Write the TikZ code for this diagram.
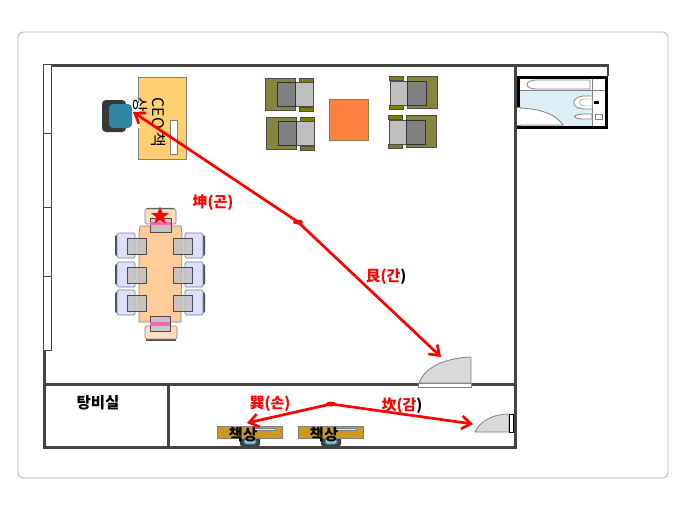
\documentclass[tikz,border=0pt]{standalone}
\usepackage{fontspec}
\usepackage{xcolor}
\setmainfont{Noto Sans CJK KR}
\usetikzlibrary{arrows.meta,shapes.geometric}

\definecolor{wallgray}{HTML}{444444}
\definecolor{olive}{HTML}{85853F}
\definecolor{armolive}{HTML}{808000}
\definecolor{deskgold}{HTML}{CC9A1A}
\definecolor{ceogold}{HTML}{FFCF70}
\definecolor{chairteal}{HTML}{2E86A0}
\definecolor{tableorange}{HTML}{FF7F3F}
\definecolor{tablepeach}{HTML}{FFCC99}
\definecolor{bathblue}{HTML}{DDEEF6}

\tikzset{
  wall/.style={draw=wallgray, line width=3pt},
  thinwall/.style={draw=wallgray, line width=1pt, fill=white},
  door/.style={draw=gray, line width=0.8pt, fill=black!15},
  route/.style={draw=red, line width=2.7pt},
  compass/.style={text=red, font=\fontsize{15}{15}\selectfont\bfseries},
  roomlabel/.style={text=black, font=\fontsize{15.5}{16}\selectfont\bfseries},
  desklabel/.style={text=black, font=\fontsize{15.5}{16}\selectfont\bfseries},
  seat/.style={draw=black!70, fill=black!24, fill opacity=0.85, line width=0.7pt},
  lavender/.style={draw=gray, fill=blue!13, rounded corners=1.5pt, line width=0.7pt},
  peach/.style={draw=gray, fill=orange!25, rounded corners=1.5pt, line width=0.7pt},
}

\begin{document}
\begin{tikzpicture}[x=1pt, y=-1pt, >={Straight Barb[length=9pt,width=13pt]}]
  \useasboundingbox (0, 0) rectangle (690, 511);
  \draw[black!30, fill=white, rounded corners=5pt, line width=0.8pt] (18, 32) rectangle (668, 478);

  % bathroom
  \fill[bathblue] (520, 90) rectangle (592, 127);
  \draw[black!50] (520, 90) -- (592, 90) (592, 77) -- (592, 127) (592, 90) -- (607, 90);
  \draw[gray, line width=0.8pt] (590, 80) -- (536, 80) .. controls (524, 80) and (524, 89) .. (536, 89) -- (590, 89) -- cycle;
  \draw[gray, line width=0.8pt, fill=white] (592, 96) -- (585, 96) .. controls (570, 96) and (570, 109) .. (585, 109) -- (592, 109);
  \draw[gray, fill=white] (586, 99) .. controls (577, 99) and (577, 106) .. (586, 106) -- (592, 106) -- (592, 99) -- cycle;
  \fill[black] (594, 100.5) rectangle (599, 103.5);
  \draw[gray, line width=0.8pt, fill=white] (592, 114) -- (582, 114) .. controls (572, 115) and (572, 118) .. (582, 119) -- (592, 119) -- cycle;
  \draw[gray, line width=0.8pt] (595, 114) rectangle (602, 119);
  \draw[black, line width=3pt] (606.5, 77) -- (606.5, 127) (514, 127) -- (608, 127) (514, 77) -- (608, 77);
  \fill[black] (514, 77) rectangle (520, 108);
  \fill[white] (514, 108) rectangle (520, 125);
  \draw[gray!70!orange, line width=0.8pt] (514, 107) rectangle (520, 125);
  \draw[gray, line width=0.8pt, fill=white] (520, 108) .. controls (540, 109) and (556, 114) .. (563, 125) -- (520, 125);
  \draw[wall, line width=2.5pt] (515, 65.5) -- (608, 65.5) -- (608, 76);

  % walls
  \draw[wall] (47, 65.5) -- (515, 65.5) -- (515, 447) -- (44, 447) -- (44, 350);
  \draw[wall] (44, 384.5) -- (515, 384.5);
  \draw[wall] (168, 384.5) -- (168, 447);
  \foreach \ya/\yb in {64/133, 133/207, 207/276, 276/350}
    \draw[thinwall] (43, \ya) rectangle (51, \yb);

  % doors
  \draw[gray, fill=white, line width=0.8pt] (418, 383) rectangle (471, 387);
  \draw[door] (419, 383) .. controls (425, 367) and (445, 358) .. (471, 357) -- (471, 383) -- cycle;
  \draw[door] (475, 432) .. controls (480, 421) and (493, 414) .. (509, 414) -- (509, 432) -- cycle;
  \draw[black, fill=white, line width=0.7pt] (509, 414) rectangle (513.5, 432);

  % CEO desk
  \draw[gray, fill=ceogold, line width=0.8pt] (138, 77) rectangle (186, 159);
  \draw[gray, fill=white, line width=0.7pt] (170, 120) rectangle (177, 154);
  \fill[black!78, rounded corners=4pt] (102, 100) rectangle (126, 132);
  \fill[white] (130, 103) rectangle (140, 128);
  \fill[chairteal, rounded corners=4pt] (109, 104) rectangle (132, 128);
  \node[rotate=-90, align=left, font=\fontsize{16}{18}\selectfont, inner sep=0pt] (ceodesk) at (149, 122.5) {CEO 책\\상};

  % sofas, left pair and right pair
  \foreach \dx/\dy in {0/0, 1/39} {
    \begin{scope}[shift={(\dx, \dy)}]
      \draw[black!70, fill=armolive] (299, 78) rectangle (313, 82) (299, 107) rectangle (313, 111);
      \draw[black!70, fill=olive] (265, 78) rectangle (295, 110);
      \draw[black!70, fill=black!25] (295, 82) rectangle (313, 106);
      \draw[black!80, fill=black!50] (277, 82) rectangle (295, 106);
    \end{scope}
  }
  \foreach \dx/\dy in {0/0, -1/39} {
    \begin{scope}[shift={(\dx, \dy)}]
      \draw[black!70, fill=armolive] (389, 76) rectangle (403, 80) (389, 105) rectangle (403, 109);
      \draw[black!70, fill=olive] (407, 76) rectangle (437, 108);
      \draw[black!70, fill=black!25] (390, 81) rectangle (407, 105);
      \draw[black!80, fill=black!50] (407, 81) rectangle (426, 105);
    \end{scope}
  }
  \draw[olive, fill=tableorange, line width=0.8pt] (329, 99) rectangle (368, 140);

  % meeting table
  \draw[black!60, fill=black!70, rounded corners=2pt] (146, 208) rectangle (175, 214);
  \draw[peach] (145, 209) rectangle (176, 224);
  \draw[gray, fill=tablepeach, line width=0.7pt] (139, 233) -- (140, 226) -- (181, 226) -- (182, 233) -- (181, 322) -- (139, 322) -- cycle;
  \foreach \y in {233, 262, 290} {
    \fill[black!70, rounded corners=2pt] (115, \y+2) rectangle (119, \y+23);
    \fill[black!70, rounded corners=2pt] (201, \y+2) rectangle (205, \y+23);
    \draw[lavender] (117, \y) rectangle (135, \y+25);
    \draw[lavender] (185, \y) rectangle (203, \y+25);
    \draw[seat] (127, \y+5) rectangle (146, \y+21);
    \draw[seat] (173, \y+5) rectangle (192, \y+21);
  }
  \draw[seat] (150, 218) rectangle (171, 232);
  \fill[magenta!60] (150, 222) rectangle (171, 225);
  \fill[black!70] (146, 338) rectangle (176, 341);
  \draw[peach] (145, 326) rectangle (177, 339);
  \draw[seat] (150, 316) rectangle (170, 331);
  \fill[magenta!60] (150, 322) rectangle (170, 326);
  \node[star, star points=5, star point ratio=2.4, fill=red, inner sep=0pt, minimum size=19pt] (bossseat) at (160, 216) {};

  % bottom desks
  \foreach \x in {0, 81} {
    \begin{scope}[xshift=\x pt]
      \fill[black!75, rounded corners=1.5pt] (240, 436) rectangle (260, 446);
      \draw[chairteal, fill=chairteal!50, line width=1pt, rounded corners=2pt] (244, 439) rectangle (256, 444);
      \draw[gray, fill=deskgold, line width=0.7pt] (217, 426) rectangle (282, 438);
      \draw[gray, fill=black!12, line width=0.5pt] (253, 428) rectangle (275, 430);
    \end{scope}
  }
  \node[desklabel, inner sep=0pt] (deska) at (243, 435) {책상};
  \node[desklabel, inner sep=0pt] (deskb) at (324, 435) {책상};

  \node[roomlabel, inner sep=0pt] (pantry) at (98, 403) {탕비실};

  % routes
  \coordinate (upperhub) at (298, 222);
  \coordinate (lowerhub) at (331, 404);
  \coordinate (ceotip) at (133, 112);
  \coordinate (doortip) at (441, 357);
  \coordinate (desktip) at (247, 423);
  \coordinate (sidetip) at (473, 424);
  \draw[route, ->] (upperhub) -- (ceotip);
  \draw[route, ->] (upperhub) -- (doortip);
  \draw[route, ->] (lowerhub) -- (desktip);
  \draw[route, ->] (lowerhub) -- (sidetip);
  \fill[red] (upperhub) ellipse (5pt and 2.5pt);
  \fill[red] (lowerhub) ellipse (5pt and 2.5pt);

  \node[compass, inner sep=0pt] (gon) at (213, 203) {坤(곤)};
  \node[compass, inner sep=0pt] (gan) at (386, 277) {艮(간\textcolor{black}{)}};
  \node[compass, inner sep=0pt] (son) at (270, 404) {巽(손)};
  \node[compass, inner sep=0pt] (gam) at (402, 406) {坎(감\textcolor{black}{)}};
\end{tikzpicture}
\end{document}
